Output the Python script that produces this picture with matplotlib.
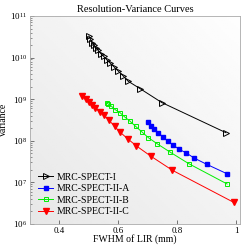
import numpy as np
import matplotlib
matplotlib.use('Agg')
import matplotlib.pyplot as plt

plt.rcParams['font.family'] = ['Liberation Serif', 'DejaVu Serif']

labels = ['MRC-SPECT-I', 'MRC-SPECT-II-A', 'MRC-SPECT-II-B', 'MRC-SPECT-II-C']

x_I = [0.500, 0.505, 0.511, 0.517, 0.524, 0.531, 0.540, 0.550, 0.561, 0.572,
       0.585, 0.600, 0.615, 0.633, 0.673, 0.747, 0.965]
y_I = [3.3e10, 2.8e10, 2.3e10, 2.0e10, 1.7e10, 1.5e10, 1.25e10, 1.07e10, 8.8e9, 7.4e9,
       6.0e9, 4.7e9, 3.7e9, 2.7e9, 1.8e9, 8.3e8, 1.56e8]

x_A = [0.700, 0.711, 0.722, 0.736, 0.750, 0.767, 0.787, 0.806, 0.828, 0.858, 0.900, 0.969]
y_A = [2.8e8, 2.3e8, 1.9e8, 1.55e8, 1.25e8, 9.8e7, 7.8e7, 6.2e7, 5.2e7, 3.8e7, 2.7e7, 1.6e7]

x_B = [0.561, 0.566, 0.576, 0.589, 0.606, 0.620, 0.639, 0.659, 0.681, 0.702,
       0.731, 0.774, 0.839, 0.969]
y_B = [8.1e8, 7.6e8, 6.8e8, 5.6e8, 4.7e8, 3.8e8, 2.96e8, 2.2e8, 1.6e8, 1.18e8,
       8.5e7, 5.4e7, 2.8e7, 9.1e6]

x_C = [0.478, 0.489, 0.500, 0.511, 0.522, 0.536, 0.550, 0.567, 0.587, 0.606,
       0.631, 0.661, 0.709, 0.783, 0.991]
y_C = [1.22e9, 1.02e9, 8.7e8, 7.4e8, 6.2e8, 5.0e8, 4.1e8, 3.2e8, 2.2e8, 1.6e8,
       1.12e8, 7.5e7, 4.3e7, 1.95e7, 3.3e6]

fig = plt.figure(figsize=(2.41, 2.46), dpi=100)
ax = fig.add_axes([0.1245, 0.09, 0.872, 0.845])

# soft gray background gradient
gx, gy = np.meshgrid(np.linspace(0, 1, 100), np.linspace(0, 1, 100))
grad = 0.5 * (gx + gy)
ax.imshow(grad, extent=[0, 1, 0, 1], transform=ax.transAxes, cmap='gray',
          vmin=-10, vmax=1.05, origin='lower', aspect='auto', zorder=0)

ax.plot(x_I, y_I, color='black', lw=0.7, marker='>', ms=4, mfc='none', mew=0.7, label=labels[0])
ax.plot(x_A, y_A, color='blue', lw=0.7, marker='s', ms=3.5, mfc='blue', mec='blue', label=labels[1])
ax.plot(x_B, y_B, color='#00ee00', lw=0.7, marker='s', ms=3.5, mfc='none', mew=0.7, label=labels[2])
ax.plot(x_C, y_C, color='red', lw=0.7, marker='v', ms=4.5, mfc='red', mec='red', label=labels[3])

ax.set_yscale('log')
ax.set_xlim(0.3, 1.0133)
ax.set_ylim(1e6, 1e11)
ax.set_xticks([0.4, 0.6, 0.8, 1.0])
ax.set_xticklabels(['0.4', '0.6', '0.8', '1'])
ax.set_yticks([1e6, 1e7, 1e8, 1e9, 1e10, 1e11])

ax.tick_params(which='both', direction='in', labelsize=6.5, colors='#444444',
               labelcolor='black', pad=2)
ax.tick_params(which='major', length=3, width=0.5)
ax.tick_params(which='minor', length=1.5, width=0.4)
for s in ax.spines.values():
    s.set_color('#aaaaaa')
    s.set_linewidth(0.6)

ax.set_title('Resolution-Variance Curves', fontsize=7.5, pad=3)
ax.set_xlabel('FWHM of LIR (mm)', fontsize=7)
ax.set_ylabel('Variance', fontsize=7)
ax.xaxis.set_label_coords(0.5, -0.048)
ax.yaxis.set_label_coords(-0.105, 0.5)

ax.legend(loc='lower left', frameon=False, fontsize=7, handlelength=1.6,
          handletextpad=0.3, labelspacing=0.25, borderaxespad=0.4)

fig.savefig('out.png', dpi=100)
